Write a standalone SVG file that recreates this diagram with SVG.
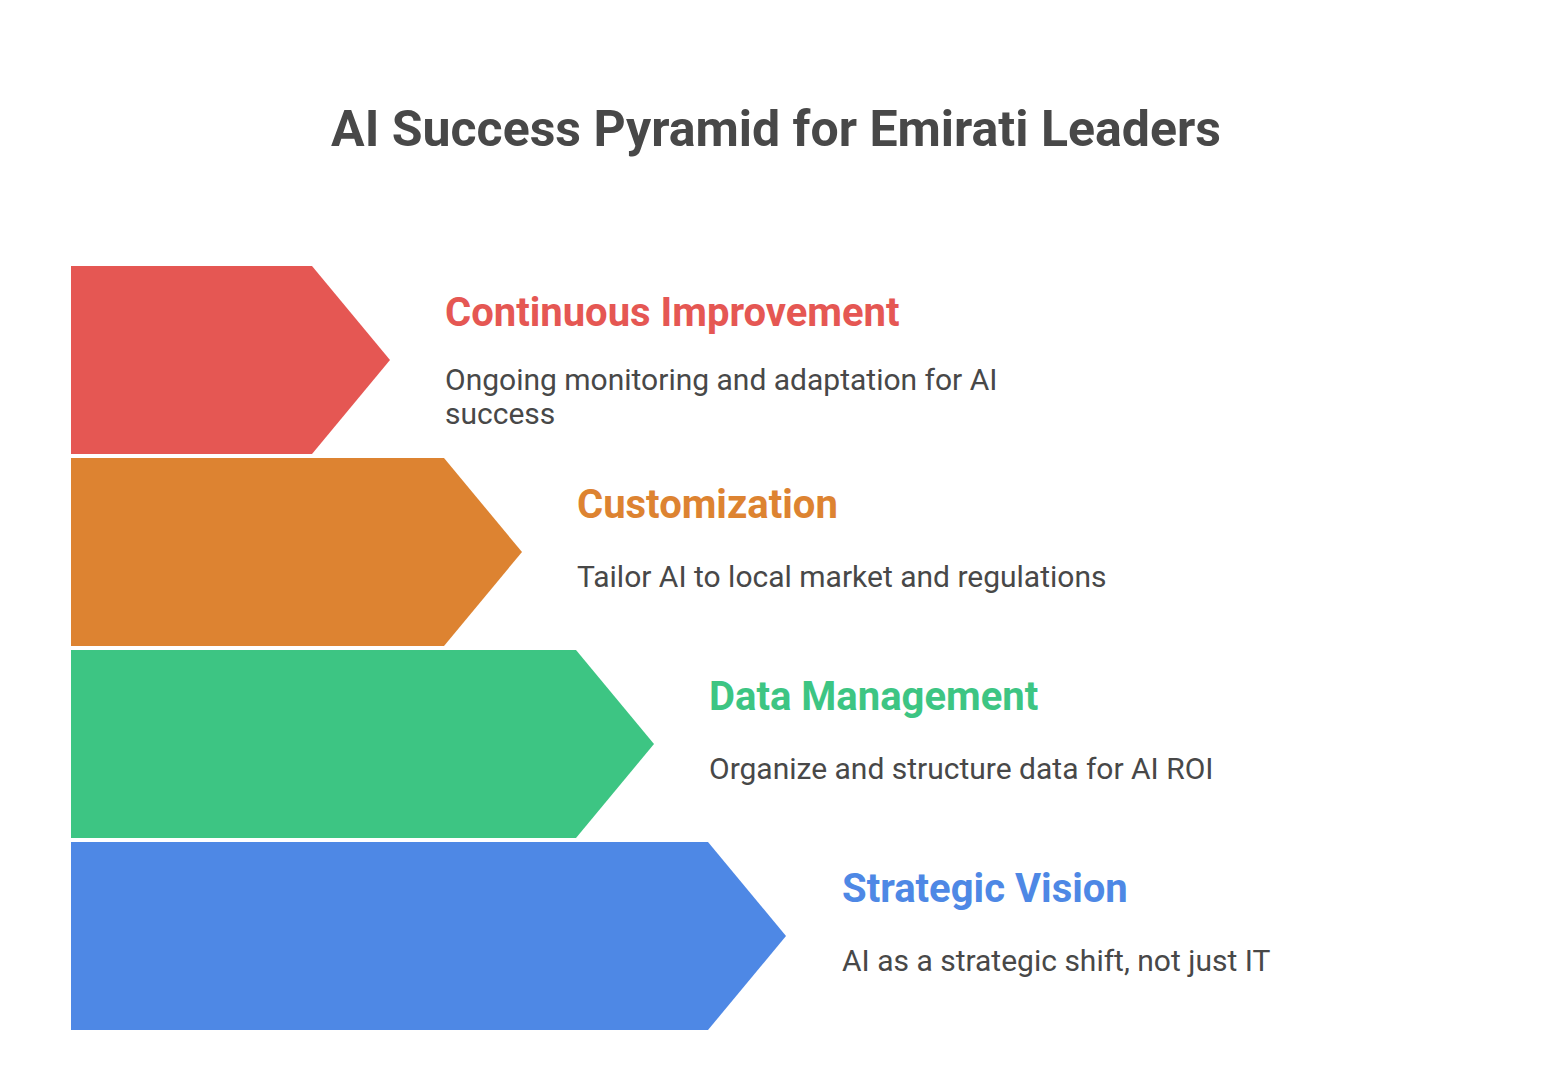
<svg xmlns="http://www.w3.org/2000/svg" width="1552" height="1069" viewBox="0 0 1552 1069">
  <style>
    .title { font-family: Roboto, "Liberation Sans", Arial, sans-serif; font-weight: 700; font-size: 50px; fill: #484848; }
    .head { font-family: Roboto, "Liberation Sans", Arial, sans-serif; font-weight: 700; font-size: 40px; }
    .body { font-family: Roboto, "Liberation Sans", Arial, sans-serif; font-weight: 400; font-size: 30px; fill: #484848; }
    .red { fill: #E55753; }
    .orange { fill: #DD8331; }
    .green { fill: #3DC583; }
    .blue { fill: #4E88E5; }
  </style>
  <rect x="0" y="0" width="1552" height="1069" fill="#ffffff"/>
  <text class="title" x="776" y="146" text-anchor="middle">AI Success Pyramid for Emirati Leaders</text>
  <g id="connectors"/>
  <g id="node-continuous-improvement">
    <polygon class="red" points="71,266 312,266 390,360 312,454 71,454"/>
    <text class="head red" x="445" y="326">Continuous Improvement</text>
    <text class="body" x="445" y="390">Ongoing monitoring and adaptation for AI</text>
    <text class="body" x="445" y="424">success</text>
  </g>
  <g id="node-customization">
    <polygon class="orange" points="71,458 444,458 522,552 444,646 71,646"/>
    <text class="head orange" x="577" y="518">Customization</text>
    <text class="body" x="577" y="587">Tailor AI to local market and regulations</text>
  </g>
  <g id="node-data-management">
    <polygon class="green" points="71,650 576,650 654,744 576,838 71,838"/>
    <text class="head green" x="709" y="710">Data Management</text>
    <text class="body" x="709" y="779">Organize and structure data for AI ROI</text>
  </g>
  <g id="node-strategic-vision">
    <polygon class="blue" points="71,842 708,842 786,936 708,1030 71,1030"/>
    <text class="head blue" x="842" y="902">Strategic Vision</text>
    <text class="body" x="842" y="971">AI as a strategic shift, not just IT</text>
  </g>
</svg>
